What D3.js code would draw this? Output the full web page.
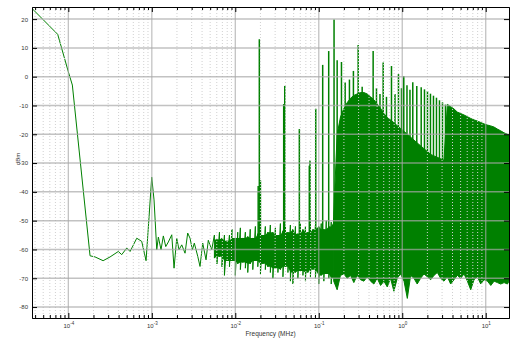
<!DOCTYPE html>
<html>
<head>
<meta charset="utf-8">
<script src="https://cdn.jsdelivr.net/npm/d3@7"></script>
<style>
  body { margin: 0; background: #fff; }
  text { font-family: "Liberation Sans", Arial, sans-serif; }
</style>
</head>
<body>
<div id="display"></div>
<script>
// smooth low-frequency part of the trace (MHz, dBm)
const lowFreq = [3.67e-5, 7.46e-5, 1.0e-4, 1.117e-4, 1.82e-4, 2.09e-4, 2.61e-4, 3.16e-4, 3.97e-4, 4.36e-4,
    5.01e-4, 5.49e-4, 6.60e-4, 7.57e-4, 8.53e-4, 9.27e-4, 9.97e-4, 1.063e-3, 1.146e-3, 1.198e-3,
    1.289e-3, 1.374e-3, 1.469e-3, 1.578e-3, 1.733e-3, 1.846e-3, 1.988e-3, 2.118e-3, 2.283e-3, 2.50e-3,
    2.69e-3, 2.87e-3, 3.06e-3, 3.23e-3, 3.55e-3, 3.78e-3, 4.07e-3, 4.46e-3, 4.75e-3, 5.22e-3]
const lowDbm = [23.7, 14.7, 1.7, -2.9, -62.2, -62.6, -63.9, -62.6, -60.7, -61.8,
    -59.5, -60.7, -56.1, -57.2, -63.9, -48.6, -34.9, -42.8, -60.1, -55.7,
    -60.1, -55.3, -59.0, -57.4, -54.9, -66.5, -56.1, -60.1, -58.4, -61.3,
    -54.3, -56.1, -60.1, -57.8, -62.4, -65.9, -57.8, -63.6, -56.8, -60.1]

// noisy floor: high / low excursions
const noiseFreq = [0.00562, 0.00603, 0.00646, 0.00692, 0.00741, 0.00794,
    0.00851, 0.00912, 0.0100, 0.0107, 0.0115, 0.0123, 0.0132, 0.0141, 0.0151, 0.0162,
    0.0174, 0.0186, 0.0200, 0.0214, 0.0229, 0.0245, 0.0263, 0.0282, 0.0302, 0.0324,
    0.0347, 0.0372, 0.0398, 0.0427, 0.0457, 0.0490, 0.0525, 0.0562, 0.0603, 0.0646,
    0.0692, 0.0741, 0.0794, 0.0851, 0.0912, 0.100, 0.107, 0.115, 0.123, 0.132,
    0.141, 0.151]
const noiseHi = [-55, -56.5, -54, -56, -55, -57,
    -55, -53, -56, -54, -52.5, -56, -54, -55.5, -53, -56,
    -52, -54.5, -53, -55, -52, -54, -51.5, -54, -52.5, -55,
    -51, -53.5, -52, -54, -51.5, -53, -52, -54.5, -51, -53,
    -52, -54, -50.5, -53, -51.5, -52, -51, -53, -50, -52,
    -50.5, -49]
const noiseLo = [-63, -65, -62.5, -66, -69, -64,
    -66, -64, -69, -65, -67, -64.5, -66.5, -68, -65, -67,
    -64, -66, -68.5, -65, -67, -66, -68, -70, -66.5, -68,
    -67, -69.5, -66, -68, -71, -72, -68, -70, -67.5, -69,
    -71, -68, -69.5, -67, -70, -72, -69, -71, -68.5, -70,
    -72, -70]

// solid band above 0.15 MHz
const bandFreq = [0.151, 0.166, 0.182, 0.200, 0.219, 0.240, 0.263, 0.288, 0.316, 0.347,
    0.380, 0.417, 0.457, 0.501, 0.550, 0.603, 0.661, 0.724, 0.794, 0.871,
    0.955, 1.05, 1.15, 1.26, 1.38, 1.51, 1.66, 1.82, 2.00, 2.19,
    2.40, 2.63, 2.88, 3.16, 3.47, 3.80, 4.17, 4.57, 5.01, 5.50,
    6.03, 6.61, 7.24, 7.94, 8.71, 9.55, 10.5, 11.5, 12.6, 13.8,
    15.1, 16.6, 18.2, 19.0]
const bandTop = [-48, -20, -14, -11, -9, -7.5, -6.5, -6, -5.5, -5.5,
    -6, -7, -8, -9.5, -11, -12.8, -14.2, -15, -16, -17,
    -18, -19, -20, -21, -22, -23, -24, -25, -26, -27,
    -27.5, -28, -28.5, -29, -9.6, -10.4, -11.2, -12.3, -12.8, -13.3,
    -13.9, -14.5, -15, -15.4, -15.9, -16.4, -16.8, -17.1, -17.5, -18.2,
    -18.8, -19.5, -20, -20.3]
const bandBottom = [-71, -74, -69, -68.5, -70, -69, -71.5, -69, -70.5, -71,
    -69.5, -71, -72, -70, -72.5, -71, -73, -70, -74.5, -70,
    -68.5, -71, -77, -69, -70, -72, -70, -68.5, -69.5, -70.5,
    -69, -68, -70, -71, -69.5, -72, -70.5, -69, -70, -68.5,
    -71, -74, -70.5, -69.5, -72, -70.5, -71, -72.5, -71, -71.5,
    -72, -71.5, -72, -71]

// harmonic spikes
const spikeFreq = [0.0188, 0.0194, 0.0200, 0.0380, 0.0391, 0.0585, 0.0770, 0.0785, 0.0920, 0.1114,
    0.1315, 0.1524, 0.166, 0.187, 0.207, 0.233, 0.260, 0.2965, 0.331, 0.370,
    0.448, 0.491, 0.541, 0.591, 0.647, 0.743, 0.818, 0.901, 0.979, 1.043,
    1.139, 1.237, 1.337, 1.493, 1.686, 1.846, 2.005, 2.178, 2.366, 2.570,
    2.792, 3.033, 3.294]
const spikePeak = [-38, 13.0, -36, -9.5, -3.2, -18.2, -30.9, -29.1, -11.1, 4.1,
    8.9, 19.9, 5.7, 5.1, -2, -1, 2.0, 11.0, -3.5, -6,
    8.9, -4, -6, 4.9, -7, 3.7, -6, 0.9, -4, 0.2,
    -3, -4.5, -1.9, -3.2, -3.7, -4.4, -5.0, -5.9, -6.6, -7.3,
    -8.2, -8.9, -9.7]
const spikeFloor = -58

const decades = [1e-4, 1e-3, 1e-2, 1e-1, 1e0, 1e1]
const dbTicks = [20, 10, 0, -10, -20, -30, -40, -50, -60, -70, -80]

const green = '#008000'
const margin = {top: 7, right: 1, bottom: 22, left: 32},
      width = 510 - margin.left - margin.right,
      height = 340 - margin.top - margin.bottom

const svg = d3.select('#display').append('svg')
    .attr('width', 510)
    .attr('height', 340)
const g = svg.append('g')
    .attr('transform', 'translate(' + margin.left + ',' + margin.top + ')')

const xScale = d3.scaleLog().domain([3.67e-5, 19]).range([0, width])
const yScale = d3.scaleLinear().domain([-83.8, 24.2]).range([height, 0])

g.append('clipPath').attr('id', 'clip')
    .append('rect').attr('width', width).attr('height', height)
const plot = g.append('g').attr('clip-path', 'url(#clip)')

const area = d3.area().x(d => xScale(d.f)).y0(d => yScale(d.lo)).y1(d => yScale(d.hi))

// band
const bandData = bandFreq.map((f, i) => ({f: f, hi: bandTop[i], lo: bandBottom[i]}))
plot.append('path').datum(bandData)
    .attr('d', area)
    .attr('fill', green)
    .attr('stroke', green)
    .attr('stroke-width', 1)

// dense core of the noise floor: the range every neighbouring sweep covers
const last = noiseFreq.length - 1
const coreData = noiseFreq.map((f, i) => {
    const a = Math.max(0, i - 1), b = Math.min(last, i + 1)
    return {f: f,
        hi: d3.min([noiseHi[a], noiseHi[i], noiseHi[b]]),
        lo: d3.max([noiseLo[a], noiseLo[i], noiseLo[b]])}
})
plot.append('path').datum(coreData)
    .attr('d', area)
    .attr('fill', green)

// spikes
plot.selectAll('.spike').data(spikeFreq.map((f, i) => ({f: f, p: spikePeak[i]})))
    .enter().append('line')
    .attr('class', 'spike')
    .attr('x1', d => xScale(d.f))
    .attr('x2', d => xScale(d.f))
    .attr('y1', yScale(spikeFloor))
    .attr('y2', d => yScale(d.p))
    .attr('stroke', green)
    .attr('stroke-width', 1.5)

// trace
const trace = lowFreq.map((f, i) => [f, lowDbm[i]])
noiseFreq.forEach((f, i) => {
    trace.push([f, noiseHi[i]])
    trace.push([f, noiseLo[i]])
})
plot.append('path').datum(trace)
    .attr('d', d3.line().x(d => xScale(d[0])).y(d => yScale(d[1])))
    .attr('fill', 'none')
    .attr('stroke', green)
    .attr('stroke-width', 1)

// grid on top of the data
const isDecade = t => Math.abs(Math.log10(t) - Math.round(Math.log10(t))) < 1e-6
const minor = xScale.ticks().filter(t => !isDecade(t))

g.selectAll('.minorgrid').data(minor).enter().append('line')
    .attr('x1', d => xScale(d)).attr('x2', d => xScale(d))
    .attr('y1', 0).attr('y2', height)
    .attr('stroke', '#d0d0d0')
    .attr('stroke-dasharray', '1,2')
g.selectAll('.vgrid').data(decades).enter().append('line')
    .attr('x1', d => xScale(d)).attr('x2', d => xScale(d))
    .attr('y1', 0).attr('y2', height)
    .attr('stroke', '#a8a8a8')
    .attr('stroke-opacity', 0.7)
    .attr('stroke-width', 1.3)
g.selectAll('.hgrid').data(dbTicks).enter().append('line')
    .attr('x1', 0).attr('x2', width)
    .attr('y1', d => yScale(d)).attr('y2', d => yScale(d))
    .attr('stroke', '#a8a8a8')
    .attr('stroke-opacity', 0.7)
    .attr('stroke-width', 1.5)

// axes / frame
function styleAxis(sel) {
    sel.select('.domain').attr('stroke', '#000')
    sel.selectAll('.tick line').attr('stroke', '#000')
    sel.attr('font-family', null).attr('font-size', null)
}
g.append('g').attr('transform', 'translate(0,' + height + ')')
    .call(d3.axisBottom(xScale).tickValues(minor).tickSize(-3).tickSizeOuter(0).tickFormat(''))
    .call(styleAxis)
g.append('g').call(d3.axisTop(xScale).tickValues(minor).tickSize(-3).tickSizeOuter(0).tickFormat(''))
    .call(styleAxis)
g.append('g').call(d3.axisTop(xScale).tickValues(decades).tickSize(-5).tickSizeOuter(0).tickFormat(''))
    .call(styleAxis)

const xAxis = g.append('g').attr('transform', 'translate(0,' + height + ')')
    .call(d3.axisBottom(xScale).tickValues(decades).tickSize(-5).tickSizeOuter(0).tickPadding(5.5))
    .call(styleAxis)
xAxis.selectAll('.tick text').text(null)
    .attr('fill', '#333')
    .style('font-size', '6px')
    .each(function(d) {
        const t = d3.select(this)
        t.append('tspan').text('10')
        t.append('tspan').attr('dy', -2.6).style('font-size', '4.5px')
            .text(Math.round(Math.log10(d)))
    })

g.append('g')
    .call(d3.axisLeft(yScale).tickValues(dbTicks).tickSize(-5).tickSizeOuter(0).tickPadding(4)
        .tickFormat(d => String(d)))
    .call(styleAxis)
    .selectAll('.tick text')
    .attr('fill', '#333')
    .style('font-size', '6px')
g.append('g').attr('transform', 'translate(' + width + ',0)')
    .call(d3.axisRight(yScale).tickValues(dbTicks).tickSize(-5).tickSizeOuter(0).tickFormat(''))
    .call(styleAxis)

svg.append('text')
    .attr('x', margin.left + width / 2)
    .attr('y', 336)
    .attr('text-anchor', 'middle')
    .attr('fill', '#333')
    .style('font-size', '6.5px')
    .text('Frequency (MHz)')

svg.append('text')
    .attr('transform', 'translate(19.5,159) rotate(-90)')
    .attr('text-anchor', 'middle')
    .attr('fill', '#333')
    .style('font-size', '6px')
    .text('dBm')
</script>
</body>
</html>
